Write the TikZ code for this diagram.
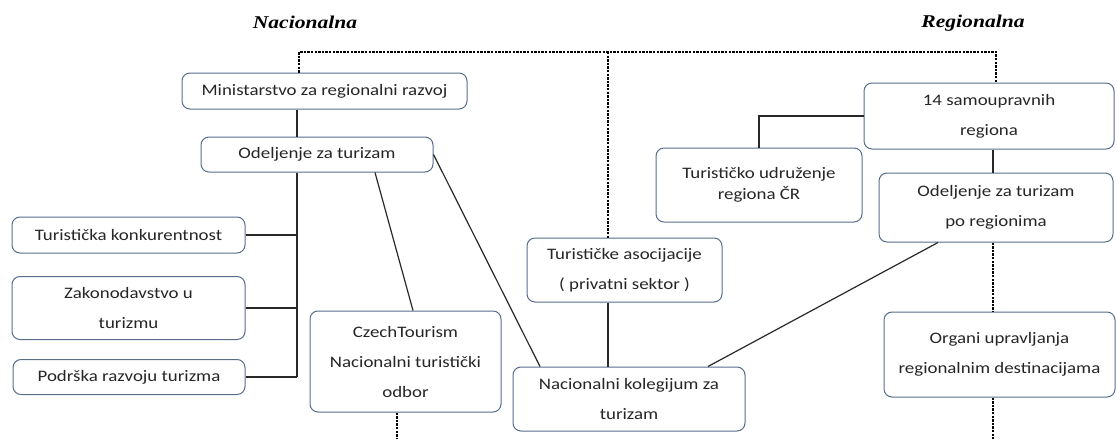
\documentclass[tikz,border=0pt]{standalone}
\usepackage{fontspec}
\setmainfont{Carlito}[FakeStretch=1.18]
\newfontfamily\headfont{Liberation Serif}[FakeStretch=1.2]
\definecolor{boxblue}{RGB}{88,108,140}
\definecolor{linegray}{RGB}{40,40,40}

\begin{document}
\begin{tikzpicture}[
	box/.style={draw=boxblue, line width=1pt, rounded corners=8pt, fill=white,
		inner sep=0pt, align=center, text=black!85, font=\fontsize{16}{30}\selectfont},
	head/.style={inner sep=0pt, font=\headfont\fontsize{18}{20}\selectfont\bfseries\itshape},
	link/.style={draw, line width=1.2pt, color=linegray},
	dashlink/.style={draw, line width=1.1pt, dash pattern=on 2.4pt off 1.2pt, color=black},
	every edge/.style={link}
]%1pt = 1px of the sheet
\useasboundingbox (0pt,0pt) rectangle (1117pt,-439pt);
\node (nac) [head] at (305.0pt, -22.0pt) {Nacionalna};
\node (reg) [head] at (973.0pt, -23.0pt) {Regionalna};
\node (min) [box, minimum width=285pt, minimum height=36pt] at (324.5pt, -91.0pt) {Ministarstvo za regionalni razvoj};
\node (odj) [box, minimum width=232pt, minimum height=35pt] at (317.0pt, -154.5pt) {Odeljenje za turizam};
\node (konk) [box, minimum width=233pt, minimum height=36pt] at (128.5pt, -235.0pt) {Turistička konkurentnost};
\node (zak) [box, minimum width=233pt, minimum height=63pt] at (128.5pt, -308.0pt) {Zakonodavstvo u\\turizmu};
\node (pod) [box, minimum width=232pt, minimum height=35pt] at (129.0pt, -377.0pt) {Podrška razvoju turizma};
\node (czech) [box, minimum width=191pt, minimum height=101pt] at (405.5pt, -361.5pt) {CzechTourism\\Nacionalni turistički\\odbor};
\node (asoc) [box, minimum width=195pt, minimum height=64pt] at (624.5pt, -270.0pt) {Turističke asocijacije\\( privatni sektor )};
\node (kol) [box, minimum width=232pt, minimum height=64pt] at (629.0pt, -399.0pt) {Nacionalni kolegijum za\\turizam};
\node (sam) [box, minimum width=250pt, minimum height=66pt] at (989.0pt, -116.0pt) {14 samoupravnih\\regiona};
\node (udr) [box, minimum width=206pt, minimum height=74pt, font=\fontsize{16}{21}\selectfont] at (759.0pt, -185.0pt) {Turističko udruženje\\regiona ČR};
\node (odr) [box, minimum width=234pt, minimum height=69pt] at (996.0pt, -207.5pt) {Odeljenje za turizam\\po regionima};
\node (org) [box, minimum width=231pt, minimum height=85pt] at (999.5pt, -354.5pt) {Organi upravljanja\\regionalnim destinacijama};

\coordinate (topL) at (299pt, -52pt);
\coordinate (topM) at (608pt, -52pt);
\coordinate (topR) at (996pt, -52pt);
\coordinate (spine) at (297pt, -377pt);
\coordinate (czbot) at (397pt, -439pt);
\coordinate (rgbot) at (993pt, -439pt);

\draw[dashlink] (min.north -| topL) -- (topL) -- (topR) -- (sam.north -| topR);
\draw[dashlink] (topM) -- (asoc.north -| topM);
\draw[dashlink] (czech.south -| czbot) -- (czbot);
\draw[dashlink] (odr.south -| rgbot) -- (org.north -| rgbot)
	(org.south -| rgbot) -- (rgbot);

\draw[link] (min.south -| spine) -- (odj.north -| spine)
	(odj.south -| spine) -- (spine);
\draw[link] (sam.west) -| (udr.north);
\path
(konk.east) edge (konk.east -| spine)
(zak.east) edge (zak.east -| spine)
(pod.east) edge (spine)
([xshift=58pt]odj.south) edge ([xshift=7.5pt]czech.north)
(odj.east) edge ([xshift=-89pt]kol.north)
(asoc.south -| topM) edge (kol.north -| topM)
([xshift=-58pt]odr.south) edge ([xshift=79pt]kol.north)
([xshift=4pt]sam.south) edge ([xshift=-3pt]odr.north);
\end{tikzpicture}
\end{document}
